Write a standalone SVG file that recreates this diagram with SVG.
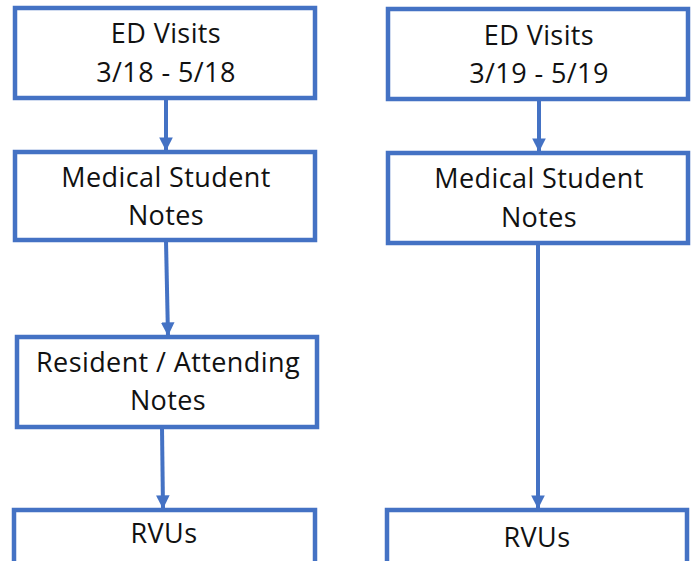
<svg xmlns="http://www.w3.org/2000/svg" width="695" height="561" viewBox="0 0 695 561">
<defs>
<marker id="ah" viewBox="0 0 10 10" refX="10" refY="5" markerWidth="3.4" markerHeight="3.4" markerUnits="strokeWidth" orient="auto">
<path d="M0,0 L10,5 L0,10 z" fill="#4472C4"/>
</marker>
</defs>
<style>
.box{fill:#fff;stroke:#4472C4;stroke-width:4.5}
.t{font-family:"Open Sans","Noto Sans",sans-serif;font-size:27px;letter-spacing:0.4px;fill:#111;text-anchor:middle}
.c{stroke:#4472C4;stroke-width:4;fill:none;marker-end:url(#ah)}
</style>
<rect width="695" height="561" fill="#fff"/>
<g id="connectors">
<line class="c" x1="166" y1="99" x2="166" y2="151"/>
<line class="c" x1="166" y1="241" x2="168" y2="336"/>
<line class="c" x1="162" y1="428" x2="163" y2="509"/>
<line class="c" x1="539" y1="100" x2="539" y2="152"/>
<line class="c" x1="538" y1="244" x2="538" y2="509"/>
</g>
<g id="n1"><rect class="box" x="15" y="8" width="300" height="90"/><text class="t" x="166" y="43">ED Visits</text><text class="t" x="166" y="82">3/18 - 5/18</text></g>
<g id="n2"><rect class="box" x="15" y="152" width="300" height="88"/><text class="t" x="166" y="187">Medical Student</text><text class="t" x="166" y="225">Notes</text></g>
<g id="n3"><rect class="box" x="17" y="337" width="300" height="90"/><text class="t" x="168" y="372">Resident / Attending</text><text class="t" x="168" y="410">Notes</text></g>
<g id="n4"><rect class="box" x="14" y="510" width="301" height="60"/><text class="t" x="164" y="543">RVUs</text></g>
<g id="n5"><rect class="box" x="388" y="9" width="300" height="90"/><text class="t" x="539" y="45">ED Visits</text><text class="t" x="539" y="83">3/19 - 5/19</text></g>
<g id="n6"><rect class="box" x="388" y="153" width="300" height="90"/><text class="t" x="539" y="188">Medical Student</text><text class="t" x="539" y="227">Notes</text></g>
<g id="n7"><rect class="box" x="387" y="510" width="300" height="60"/><text class="t" x="537" y="547">RVUs</text></g>
</svg>
